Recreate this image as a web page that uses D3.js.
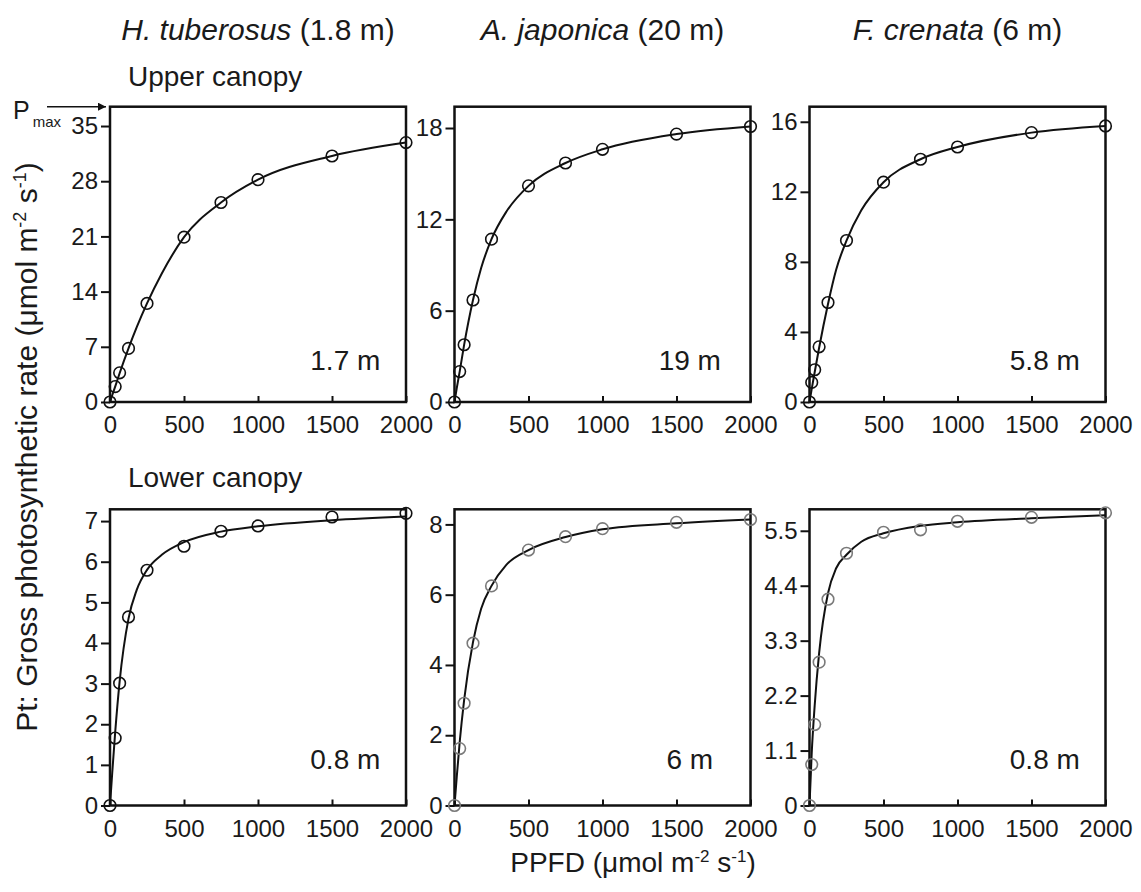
<!DOCTYPE html>
<html>
<head>
<meta charset="utf-8">
<script src="https://cdn.jsdelivr.net/npm/d3@7"></script>
<style>
  body { margin: 0; background: #fff; }
  text { font-family: "Liberation Sans", Arial, sans-serif; fill: #1a1a1a; }
</style>
</head>
<body>
<script>
// PPFD levels used for the measurements
const ppfd = [0, 35, 65, 125, 250, 500, 750, 1000, 1500, 2000];
const ppfdFine = [0, 15, 35, 65, 125, 250, 500, 750, 1000, 1500, 2000];
const ppfdFit = [0, 15, 35, 65, 125, 180, 250, 350, 500, 750, 1000, 1500, 2000];

// upper canopy, measured points
const htUpper = [0, 1.95, 3.7, 6.8, 12.5, 20.9, 25.3, 28.2, 31.2, 32.9];
const ajUpper = [0, 2.0, 3.76, 6.7, 10.7, 14.2, 15.7, 16.6, 17.6, 18.1];
const fcUpper = [0, 1.12, 1.84, 3.15, 5.68, 9.22, 12.55, 13.86, 14.56, 15.38, 15.76];
// lower canopy, measured points
const htLower = [0, 1.66, 3.01, 4.64, 5.79, 6.38, 6.75, 6.88, 7.1, 7.19];
const ajLower = [0, 1.62, 2.91, 4.62, 6.25, 7.27, 7.65, 7.88, 8.06, 8.14];
const fcLower = [0, 0.82, 1.62, 2.87, 4.13, 5.05, 5.47, 5.52, 5.69, 5.77, 5.86];

// fitted light-response curves
const htUpperFit = [0, 0.85, 1.95, 3.65, 6.8, 9.45, 12.5, 16.3, 20.9, 25.3, 28.2, 31.2, 32.9];
const ajUpperFit = [0, 0.9, 2.0, 3.75, 6.7, 8.8, 10.7, 12.5, 14.2, 15.7, 16.6, 17.6, 18.1];
const fcUpperFit = [0, 0.75, 1.7, 3.1, 5.6, 7.55, 9.22, 10.95, 12.55, 13.86, 14.56, 15.38, 15.76];
const htLowerFit = [0, 0.8, 1.8, 3.05, 4.6, 5.3, 5.8, 6.17, 6.48, 6.74, 6.87, 7.02, 7.11];
const ajLowerFit = [0, 0.8, 1.8, 3.0, 4.65, 5.6, 6.25, 6.85, 7.27, 7.64, 7.86, 8.03, 8.14];
const fcLowerFit = [0, 1.05, 2.0, 3.05, 4.25, 4.75, 5.02, 5.28, 5.45, 5.6, 5.67, 5.75, 5.81];

// labels and ticks
const species = [["H. tuberosus", " (1.8 m)"], ["A. japonica", " (20 m)"], ["F. crenata", " (6 m)"]];
const rowLabels = ["Upper canopy", "Lower canopy"];
const heightLabels = [["1.7 m", "19 m", "5.8 m"], ["0.8 m", "6 m", "0.8 m"]];
const xTicks = [0, 500, 1000, 1500, 2000];
const yTicks = [
  [[0, 7, 14, 21, 28, 35], [0, 6, 12, 18], [0, 4, 8, 12, 16]],
  [[0, 1, 2, 3, 4, 5, 6, 7], [0, 2, 4, 6, 8], [0, 1.1, 2.2, 3.3, 4.4, 5.5]]
];
const yTops = [[37.45, 19.4, 16.86], [7.29, 8.43, 5.93]];

// layout
const W = 1141, H = 892;
const colLeft = [110, 454.5, 809.5];
const panelW = 296;
const rowTop = [106.7, 509.3];
const rowBottom = [402, 805.5];
const FONT = '"Liberation Sans", Arial, sans-serif';

const svg = d3.select("body").append("svg")
    .attr("width", W)
    .attr("height", H);

const panels = [
  { row: 0, col: 0, xs: ppfd, pts: htUpper, fit: htUpperFit, color: "#111" },
  { row: 0, col: 1, xs: ppfd, pts: ajUpper, fit: ajUpperFit, color: "#111" },
  { row: 0, col: 2, xs: ppfdFine, pts: fcUpper, fit: fcUpperFit, color: "#111" },
  { row: 1, col: 0, xs: ppfd, pts: htLower, fit: htLowerFit, color: "#111" },
  { row: 1, col: 1, xs: ppfd, pts: ajLower, fit: ajLowerFit, color: "#7a7a7a" },
  { row: 1, col: 2, xs: ppfdFine, pts: fcLower, fit: fcLowerFit, color: "#7a7a7a" }
];

panels.forEach(p => {
  const x0 = colLeft[p.col];
  const x = d3.scaleLinear().domain([0, 2000]).range([x0, x0 + panelW]);
  const y = d3.scaleLinear().domain([0, yTops[p.row][p.col]]).range([rowBottom[p.row], rowTop[p.row]]);
  const g = svg.append("g");

  // x axis, ticks point inward
  const xa = g.append("g")
      .attr("transform", `translate(0,${rowBottom[p.row]})`)
      .call(d3.axisBottom(x).tickValues(xTicks).tickSizeInner(-6).tickSizeOuter(0).tickPadding(14)
        .tickFormat(d => String(d)));
  xa.select(".domain").remove();
  xa.selectAll("line").attr("stroke", "#111").attr("stroke-width", 2);
  xa.selectAll("text").attr("font-size", 24).attr("fill", "#1a1a1a").attr("font-family", FONT);

  // y axis, ticks point outward
  const ya = g.append("g")
      .attr("transform", `translate(${x0},0)`)
      .call(d3.axisLeft(y).tickValues(yTicks[p.row][p.col]).tickSizeInner(9).tickSizeOuter(0).tickPadding(3)
        .tickFormat(d => String(d)));
  ya.select(".domain").remove();
  ya.selectAll("line").attr("stroke", "#111").attr("stroke-width", 2);
  ya.selectAll("text").attr("font-size", 24).attr("fill", "#1a1a1a").attr("font-family", FONT);

  // frame
  g.append("rect")
      .attr("x", x0).attr("y", rowTop[p.row])
      .attr("width", panelW).attr("height", rowBottom[p.row] - rowTop[p.row])
      .attr("fill", "none").attr("stroke", "#111").attr("stroke-width", 2.5);

  // fitted curve
  const line = d3.line()
      .x((d, i) => x(ppfdFit[i]))
      .y(d => y(d))
      .curve(d3.curveMonotoneX);
  g.append("path")
      .datum(p.fit)
      .attr("d", line)
      .attr("fill", "none").attr("stroke", "#111").attr("stroke-width", 2);

  // measured points
  g.selectAll(".pt")
    .data(p.pts)
    .enter().append("circle")
      .attr("class", "pt")
      .attr("cx", (d, i) => x(p.xs[i]))
      .attr("cy", d => y(d))
      .attr("r", 5.8)
      .attr("fill", "none")
      .attr("stroke", p.color)
      .attr("stroke-width", 1.6);

  // height label inside panel
  g.append("text")
      .attr("x", x0 + panelW * 0.795)
      .attr("y", rowBottom[p.row] - (p.row === 0 ? 32 : 37))
      .attr("text-anchor", "middle")
      .attr("font-size", 28)
      .text(heightLabels[p.row][p.col]);
});

// column titles
species.forEach((s, i) => {
  const t = svg.append("text")
      .attr("x", colLeft[i] + panelW / 2)
      .attr("y", 40)
      .attr("text-anchor", "middle")
      .attr("font-size", 30);
  t.append("tspan").attr("font-style", "italic").text(s[0]);
  t.append("tspan").text(s[1]);
});

// row titles
rowLabels.forEach((r, i) => {
  svg.append("text")
      .attr("x", 128)
      .attr("y", i === 0 ? 86 : 487)
      .attr("font-size", 28)
      .text(r);
});

// Pmax marker
const pm = svg.append("text").attr("x", 13).attr("y", 119).attr("font-size", 25);
pm.append("tspan").text("P");
pm.append("tspan").attr("font-size", 15).attr("dy", 8).attr("dx", 3).text("max");
svg.append("defs").append("marker")
    .attr("id", "arrow")
    .attr("viewBox", "0 0 10 10")
    .attr("refX", 10).attr("refY", 5)
    .attr("markerWidth", 13).attr("markerHeight", 8)
    .attr("markerUnits", "userSpaceOnUse")
    .attr("orient", "auto")
  .append("path")
    .attr("d", "M0,0 L10,5 L0,10 Z")
    .attr("fill", "#111");
svg.append("line")
    .attr("x1", 47).attr("x2", 106)
    .attr("y1", rowTop[0]).attr("y2", rowTop[0])
    .attr("stroke", "#111").attr("stroke-width", 1.6)
    .attr("marker-end", "url(#arrow)");

// y axis title
const yt = svg.append("text")
    .attr("transform", "translate(37,447) rotate(-90)")
    .attr("text-anchor", "middle")
    .attr("font-size", 30);
yt.append("tspan").text("Pt: Gross photosynthetic rate (\u03bcmol m");
yt.append("tspan").attr("font-size", 18).attr("dy", -11).text("-2");
yt.append("tspan").attr("dy", 11).text(" s");
yt.append("tspan").attr("font-size", 18).attr("dy", -11).text("-1");
yt.append("tspan").attr("dy", 11).text(")");

// x axis title
const xt = svg.append("text")
    .attr("x", 633)
    .attr("y", 872)
    .attr("text-anchor", "middle")
    .attr("font-size", 28);
xt.append("tspan").text("PPFD (\u03bcmol m");
xt.append("tspan").attr("font-size", 17).attr("dy", -10).text("-2");
xt.append("tspan").attr("dy", 10).text(" s");
xt.append("tspan").attr("font-size", 17).attr("dy", -10).text("-1");
xt.append("tspan").attr("dy", 10).text(")");
</script>
</body>
</html>
